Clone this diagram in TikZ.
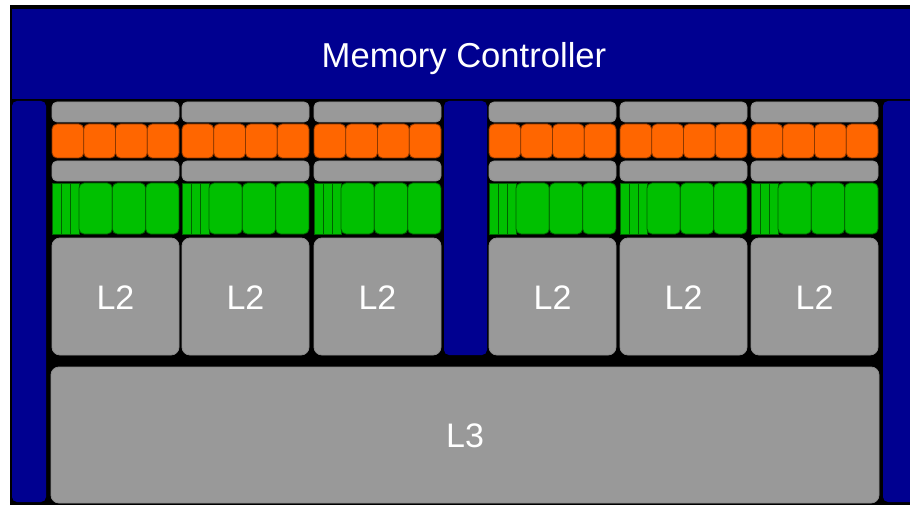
\documentclass[tikz,border=0pt]{standalone}
\usepackage{fontspec}
\setmainfont{Liberation Sans}

\definecolor{mcblue}{HTML}{000090}
\definecolor{cachegray}{HTML}{999999}
\definecolor{coreorange}{HTML}{FF6600}
\definecolor{coregreen}{HTML}{00C000}

\tikzset{
  slicebar/.style={fill=cachegray, draw=black!45, line width=0.8pt, rounded corners=5pt},
  regbox/.style={fill=coreorange, draw=coreorange!55!black, line width=0.8pt, rounded corners=5pt},
  alubox/.style={fill=coregreen, draw=coregreen!50!black, line width=0.8pt, rounded corners=5pt},
  alustrip/.style={fill=coregreen, draw=coregreen!50!black, line width=0.8pt},
  cachebox/.style={fill=cachegray, draw=black!45, line width=0.8pt, rounded corners=8pt},
  busbar/.style={fill=mcblue, rounded corners=5pt},
  label/.style={text=white, anchor=base, inner sep=0pt, font=\fontsize{34}{40}\selectfont}
}

\begin{document}
\begin{tikzpicture}[x=1pt, y=-1pt]
  \useasboundingbox (0,0) rectangle (910,505);
  \clip (0,0) rectangle (910,505);

  % black die background
  \fill[black] (9.5,5.5) rectangle (915,505);

  % memory controller along the top
  \fill[mcblue] (12,9) rectangle (915,99);
  \node[label, font=\fontsize{34.6}{40}\selectfont] (mc) at (464,67.3) {Memory Controller};

  % interconnect columns
  \fill[busbar] (12,101) rectangle (46,502);
  \fill[busbar] (444,101) rectangle (487,355);
  \fill[busbar] (883,101) rectangle (920,502);

  % one core per column
  \foreach \x in {52,182,314,489,620,751} {
    \draw[slicebar] (\x,102) rectangle ++(127,20);
    \foreach \i in {0,...,3}
      \draw[regbox] ({\x+\i*31.75},124) rectangle ++(31.75,34);
    \draw[slicebar] (\x,161) rectangle ++(127,20);
    % narrow units, then the wide ones
    \foreach \i in {0,1,2}
      \draw[alustrip] ({\x+\i*9},183) rectangle ++(9,51);
    \foreach \i in {0,1,2}
      \draw[alubox] ({\x+27+\i*33.33},183) rectangle ++(33.33,51);
    \draw[cachebox] (\x,238) rectangle ++(127,117);
    \node[label] (l2-\x) at ({\x+63.5},309.3) {L2};
  }

  % shared last level cache
  \draw[cachebox] (51,367) rectangle (879,503);
  \node[label] (l3) at (465,447.7) {L3};
\end{tikzpicture}
\end{document}
